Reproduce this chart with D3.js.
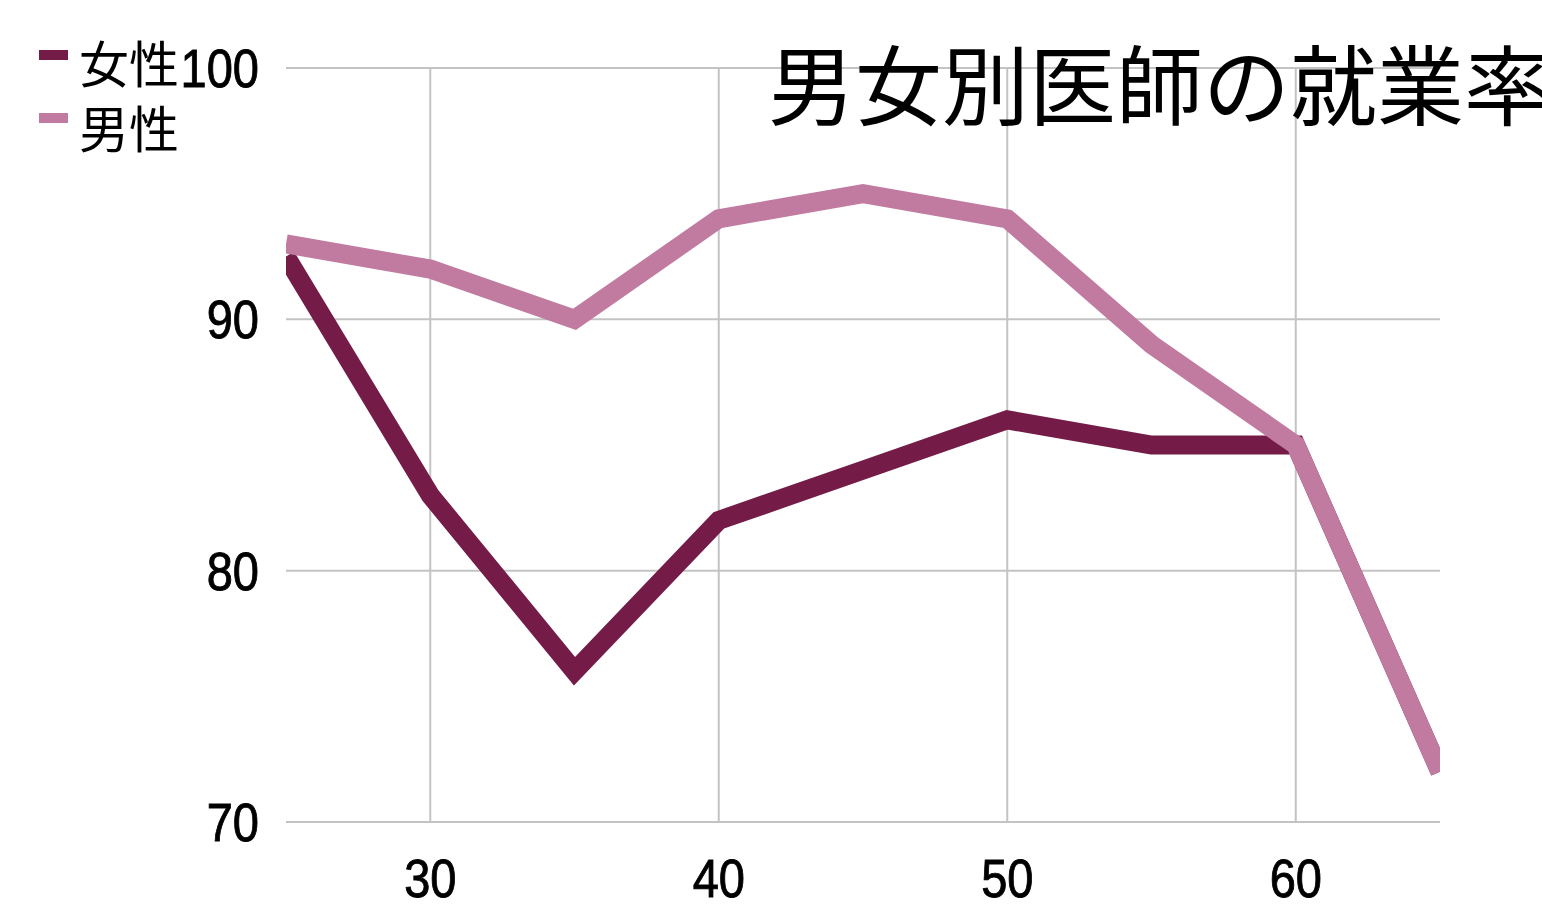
<!DOCTYPE html>
<html><head><meta charset="utf-8">
<script src="https://cdn.jsdelivr.net/npm/d3@7"></script>
<style>body{margin:0;background:#fff}svg{display:block}</style>
</head><body>
<svg id="c" width="1542" height="911"></svg>
<script>
const ages = [25,30,35,40,45,50,55,60,65];
const female = [92.5,83,76,82,84,86,85,85,72];
const male = [93,92,90,94,95,94,89,85,72];
const xTicks = [30,40,50,60];
const yTicks = [70,80,90,100];
const title = "男女別医師の就業率";
const seriesNames = ["女性","男性"];
const colors = ["#741B47","#C27BA0"];

const svg = d3.select("#c");
const L=286,R=1440,T=68,B=822;
const x = d3.scaleLinear().domain([25,65]).range([L,R]);
const y = d3.scaleLinear().domain([70,100]).range([B,T]);
const num = "'Liberation Sans', Arial, sans-serif";
const cjk = "'Noto Sans CJK JP', sans-serif";
const sx = 0.87;

const g = svg.append("g");
g.selectAll(".hg").data(yTicks).join("line")
 .attr("x1",L).attr("x2",R).attr("y1",d=>y(d)).attr("y2",d=>y(d))
 .attr("stroke","#c3c3c3").attr("stroke-width",2);
g.selectAll(".vg").data(xTicks).join("line")
 .attr("y1",T).attr("y2",B).attr("x1",d=>x(d)).attr("x2",d=>x(d))
 .attr("stroke","#c3c3c3").attr("stroke-width",2);

g.selectAll(".yl").data(yTicks).join("text")
 .attr("transform",d=>`translate(259,${y(d)+19}) scale(${sx},1)`)
 .attr("text-anchor","end")
 .attr("font-family",num).attr("font-size",54).attr("fill","#000")
 .attr("stroke","#000").attr("stroke-width",0.9).text(d=>d);
g.selectAll(".xl").data(xTicks).join("text")
 .attr("transform",d=>`translate(${x(d)},897) scale(${sx},1)`)
 .attr("text-anchor","middle")
 .attr("font-family",num).attr("font-size",54).attr("fill","#000")
 .attr("stroke","#000").attr("stroke-width",0.9).text(d=>d);

svg.append("clipPath").attr("id","clip").append("rect")
 .attr("x",L).attr("y",T-30).attr("width",R-L).attr("height",B-T+60);
const line = d3.line().x((d,i)=>x(ages[i])).y(d=>y(d));
const lg = svg.append("g").attr("clip-path","url(#clip)");
[female,male].forEach((s,k)=>{
  lg.append("path").attr("d",line(s)).attr("fill","none")
   .attr("stroke",colors[k]).attr("stroke-width",19)
   .attr("stroke-linejoin","miter").attr("stroke-linecap","butt");
});

// legend
seriesNames.forEach((n,k)=>{
  const sy = k===0?55:118;
  const ty = k===0?83:148;
  svg.append("rect").attr("x",39).attr("y",sy-5).attr("width",29).attr("height",10).attr("fill",colors[k]);
  svg.append("text").attr("x",79).attr("y",ty)
   .attr("font-family",cjk).attr("font-size",50).attr("fill","#000").text(n);
});

svg.append("text").attr("x",768).attr("y",119)
 .attr("font-family",cjk).attr("font-size",87).attr("fill","#000").text(title);
</script>
</body></html>
